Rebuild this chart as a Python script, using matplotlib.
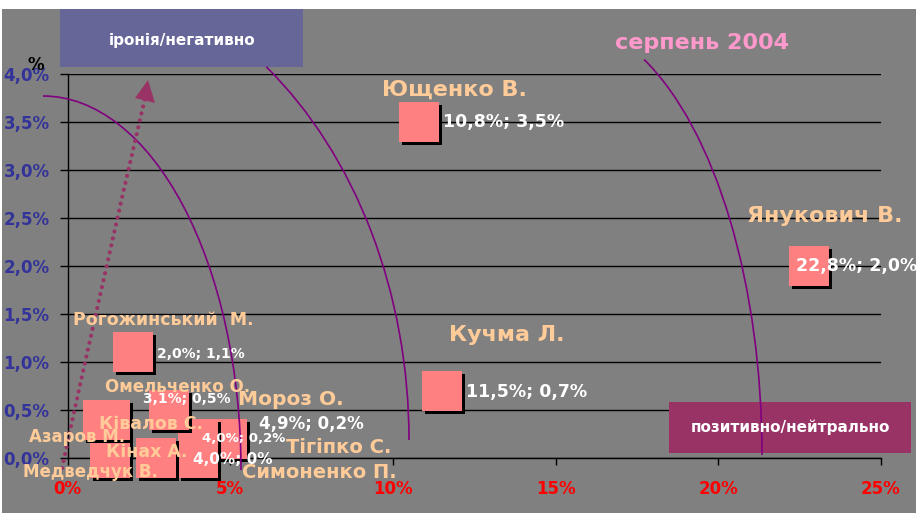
import matplotlib
matplotlib.use("Agg")
import matplotlib.pyplot as plt
from matplotlib.patches import Rectangle, Arc, PathPatch, Polygon
from matplotlib.path import Path
from matplotlib.transforms import Affine2D, offset_copy

# дані: кандидати, частка згадувань (%) та частка іронії/негативу (%)
names = ["Ющенко В.", "Янукович В.", "Кучма Л.", "Мороз О.", "Тігіпко С.",
         "Симоненко П.", "Рогожинський  М.", "Омельченко О.", "Медведчук В.",
         "Кінах А.", "Азаров М.", "Ківалов С."]
x_share = [10.8, 22.8, 11.5, 4.9, 4.0, 4.0, 2.0, 3.1, 1.3, 2.7, 1.1, 1.3]
y_neg = [3.5, 2.0, 0.7, 0.2, 0.2, 0.0, 1.1, 0.5, 0.0, 0.0, 0.4, 0.4]
show_value = [True, True, True, True, True, True, True, True, False, False, False, False]

x_ticks = [0, 5, 10, 15, 20, 25]
y_ticks = [0.0, 0.5, 1.0, 1.5, 2.0, 2.5, 3.0, 3.5, 4.0]

# розміщення підписів (пікселі, y вниз) і розміри шрифтів
name_off = [(36, -32), (16, -50), (65, -56), (64, -39), (141, 9), (122, 14),
            (31, -32), (9, -23), (-20, 14), (-9, -6), (-26, 17), (41, 4)]
name_size = [16, 16, 16, 14.5, 14, 14, 12.5, 12, 12, 12.5, 12, 12.5]
value_off = [(24, 0), (-13, 0), (24, 1), (32, -15), (4, 0), (-5, 2),
             (24, 2), (-26, -11), (0, 0), (0, 0), (0, 0), (0, 0)]
value_size = [12.5, 12.5, 12.5, 12, 9.5, 11, 10, 10, 10, 10, 10, 10]

W, H = 916, 513
fig = plt.figure(figsize=(W / 100, H / 100), dpi=100, facecolor="white")
px = Affine2D().scale(1, -1).translate(0, H)  # пікселі, відлік зверху

fig.add_artist(Rectangle((2, 9), W, H, transform=px, facecolor="#808080",
                         edgecolor="none", zorder=-5))

ax = fig.add_axes([67.7 / W, 1 - 458 / H, 813 / W, 384 / H])
ax.set_facecolor("#808080")
ax.set_xlim(0, 25)
ax.set_ylim(0, 4)

ax.set_xticks(x_ticks)
ax.set_xticklabels([f"{t}%" for t in x_ticks])
ax.set_yticks(y_ticks)
ax.set_yticklabels([f"{t:.1f}%".replace(".", ",") for t in y_ticks])
for lab in ax.get_xticklabels():
    lab.set_fontweight("bold")
for lab in ax.get_yticklabels():
    lab.set_fontweight("bold")
ax.tick_params(axis="x", colors="black", labelcolor="#FF0000", labelsize=12,
               length=5, width=1, pad=11)
ax.tick_params(axis="y", colors="black", labelcolor="#333399", labelsize=12,
               length=6, width=1, pad=7)

ax.yaxis.grid(True, color="black", lw=1)
ax.set_axisbelow(True)
for s in ["top", "right"]:
    ax.spines[s].set_visible(False)
for s in ["left", "bottom"]:
    ax.spines[s].set_color("black")
    ax.spines[s].set_linewidth(1)

# маркери з тінню
shadow = offset_copy(ax.transData, fig=fig, x=3, y=-3, units="dots")
for i in range(len(names)):
    z = 3 + i * 0.01
    ax.plot(x_share[i], y_neg[i], marker="s", ms=29.5, color="black", mew=0,
            transform=shadow, clip_on=False, zorder=z)
    ax.plot(x_share[i], y_neg[i], marker="s", ms=29.5, color="#FF8080", mew=0,
            clip_on=False, zorder=z + 0.005)

# дуги (кути геометричні)
arc_kw = dict(transform=px, color="#800080", lw=1.2, clip_on=False, zorder=6)
ax.add_patch(Arc((43, 470), 2 * 198, 2 * 374, theta1=270, theta2=360, **arc_kw))
ax.add_patch(Arc((43, 440), 2 * 366, 2 * 471, theta1=300.9, theta2=360, **arc_kw))
ax.add_patch(Arc((560, 455), 2 * 202, 2 * 435, theta1=282, theta2=360, **arc_kw))

# пунктирна стрілка
arrow_path = Path([(62, 468), (98, 300), (145, 98)],
                  [Path.MOVETO, Path.CURVE3, Path.CURVE3])
ax.add_patch(PathPatch(arrow_path, transform=px, facecolor="none",
                       edgecolor="#993366", lw=3, linestyle=(0, (0.01, 1.7)),
                       capstyle="round", clip_on=False, zorder=6))
ax.add_patch(Polygon([(148, 80), (135, 98), (155, 103)], closed=True,
                     transform=px, facecolor="#993366", edgecolor="none",
                     clip_on=False, zorder=6))

# підписи
for i, name in enumerate(names):
    dx, dy = name_off[i]
    ax.annotate(name, (x_share[i], y_neg[i]), xytext=(dx, -dy),
                textcoords="offset pixels", ha="center", va="center",
                color="#FFCC99", fontsize=name_size[i], fontweight="bold",
                annotation_clip=False, zorder=10)
    if show_value[i]:
        xs = f"{x_share[i]:.1f}%".replace(".", ",")
        ys = "0%" if y_neg[i] == 0 else f"{y_neg[i]:.1f}%".replace(".", ",")
        dx, dy = value_off[i]
        ax.annotate(f"{xs}; {ys}", (x_share[i], y_neg[i]), xytext=(dx, -dy),
                    textcoords="offset pixels", ha="left", va="center",
                    color="white", fontsize=value_size[i], fontweight="bold",
                    annotation_clip=False, zorder=10)

# рамки-пояснення
ax.add_patch(Rectangle((60, 9), 243, 58, transform=px, facecolor="#666699",
                       edgecolor="none", clip_on=False, zorder=5))
ax.text(182, 40, "іронія/негативно", transform=px, ha="center", va="center",
        color="white", fontsize=11, fontweight="bold", zorder=10)
ax.add_patch(Rectangle((669, 402), 242, 51, transform=px, facecolor="#993366",
                       edgecolor="none", clip_on=False, zorder=5))
ax.text(790, 427, "позитивно/нейтрально", transform=px, ha="center",
        va="center", color="white", fontsize=11, fontweight="bold", zorder=10)

ax.text(702, 43, "серпень 2004", transform=px, ha="center", va="center",
        color="#FF99CC", fontsize=16, fontweight="bold", zorder=10)
ax.text(36, 65, "%", transform=px, ha="center", va="center", color="black",
        fontsize=12, fontweight="bold", zorder=10)

fig.savefig("out.png", dpi=100, facecolor="white")
